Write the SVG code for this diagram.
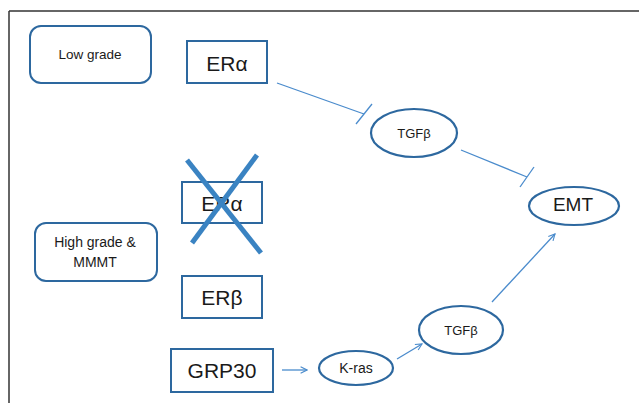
<svg xmlns="http://www.w3.org/2000/svg" width="639" height="403" viewBox="0 0 639 403">
<defs>
<style>
.box{fill:#fff;stroke:#2d689f;stroke-width:2}
.ell{fill:#fff;stroke:#2d689f;stroke-width:2.2}
.t{font-family:"Liberation Sans",Arial,sans-serif;fill:#1a1a1a;text-anchor:middle}
.c{stroke:#4a8bcc;stroke-width:1.3;fill:none}
.x{stroke:#3a83c2;stroke-width:5;stroke-linecap:butt}
</style>
<marker id="arr" viewBox="0 0 10 10" refX="9" refY="5" markerWidth="8" markerHeight="8" markerUnits="userSpaceOnUse" orient="auto">
<polyline points="1,1 9,5 1,9" fill="none" stroke="#4a8bcc" stroke-width="1.4"/>
</marker>
</defs>
<rect width="639" height="403" fill="#fff"/>
<g id="frame">
<line x1="9" y1="11" x2="639" y2="11" stroke="#333" stroke-width="1.5"/>
<line x1="9" y1="11" x2="9" y2="403" stroke="#333" stroke-width="1.5"/>
</g>
<g id="connectors">
<line class="c" x1="277" y1="83" x2="364" y2="114"/>
<line class="c" x1="372" y1="104" x2="356" y2="124"/>
<line class="c" x1="461" y1="150" x2="527" y2="177"/>
<line class="c" x1="534" y1="167" x2="520" y2="187"/>
<line class="c" x1="282" y1="370" x2="307" y2="370" marker-end="url(#arr)"/>
<line class="c" x1="397" y1="359" x2="422" y2="344" marker-end="url(#arr)"/>
<line class="c" x1="492" y1="302" x2="555" y2="234" marker-end="url(#arr)"/>
</g>
<g id="low-grade">
<rect class="box" x="30" y="26" width="121" height="57" rx="11"/>
<text class="t" x="90" y="59" font-size="13.5">Low grade</text>
</g>
<g id="er-alpha">
<rect class="box" x="187" y="41" width="80" height="42"/>
<text class="t" x="227" y="71" font-size="21">ERα</text>
</g>
<g id="tgfb-top">
<ellipse class="ell" cx="414" cy="133" rx="43" ry="24"/>
<text class="t" x="414" y="138" font-size="13">TGFβ</text>
</g>
<g id="emt">
<ellipse class="ell" cx="574" cy="206" rx="45" ry="19"/>
<text class="t" x="573" y="211" font-size="19">EMT</text>
</g>
<g id="er-alpha-crossed">
<rect class="box" x="182" y="182" width="80" height="41"/>
<text class="t" x="222" y="211" font-size="21">ERα</text>
<line class="x" x1="187" y1="160" x2="261" y2="253"/>
<line class="x" x1="257" y1="155" x2="192" y2="243"/>
</g>
<g id="high-grade">
<rect class="box" x="35" y="223" width="122" height="58" rx="11"/>
<text class="t" x="95" y="247" font-size="14">High grade &amp;</text>
<text class="t" x="95" y="267" font-size="14">MMMT</text>
</g>
<g id="er-beta">
<rect class="box" x="182" y="276" width="80" height="42"/>
<text class="t" x="222" y="305" font-size="21">ERβ</text>
</g>
<g id="grp30">
<rect class="box" x="171" y="349" width="102" height="43"/>
<text class="t" x="222" y="378" font-size="21">GRP30</text>
</g>
<g id="kras">
<ellipse class="ell" cx="356" cy="368" rx="37" ry="17"/>
<text class="t" x="356" y="373" font-size="14">K-ras</text>
</g>
<g id="tgfb-bottom">
<ellipse class="ell" cx="461" cy="330" rx="42" ry="24"/>
<text class="t" x="461" y="335" font-size="13">TGFβ</text>
</g>
</svg>
